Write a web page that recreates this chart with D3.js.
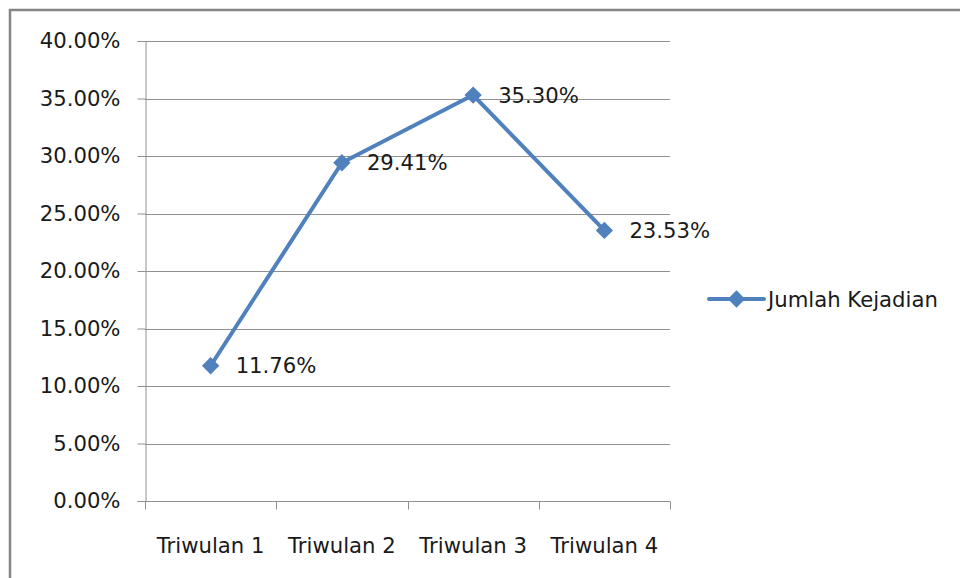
<!DOCTYPE html>
<html>
<head>
<meta charset="utf-8">
<script src="https://cdn.jsdelivr.net/npm/d3@7"></script>
<style>
  html, body { margin: 0; padding: 0; background: #fff; }
  svg { display: block; }
  text { font-family: "DejaVu Sans", sans-serif; fill: #1a1a1a; }
</style>
</head>
<body>
<div id="chart"></div>
<script>
// Quarterly share of incidents
const categories = ["Triwulan 1", "Triwulan 2", "Triwulan 3", "Triwulan 4"];
const values = [11.76, 29.41, 35.30, 23.53];
const yTicks = [0, 5, 10, 15, 20, 25, 30, 35, 40];
const seriesName = "Jumlah Kejadian";

const W = 960, H = 578;
const plot = { left: 145, right: 670, top: 41, bottom: 501 };
const blue = "#4F81BD";
const grid = "#909090";
const fs = 21.2;

const svg = d3.select("#chart").append("svg")
  .attr("width", W).attr("height", H);

// chart frame
svg.append("rect")
  .attr("x", 10).attr("y", 10)
  .attr("width", W + 10).attr("height", H + 10)
  .attr("fill", "#fff").attr("stroke", "#868686").attr("stroke-width", 2.5);

const x = d3.scaleBand().domain(categories).range([plot.left, plot.right]);
const y = d3.scaleLinear().domain([0, 40]).range([plot.bottom, plot.top]);

// horizontal gridlines
svg.append("g").selectAll("line").data(yTicks.filter(t => t > 0)).join("line")
  .attr("x1", plot.left).attr("x2", plot.right)
  .attr("y1", d => Math.round(y(d)) + 0.5).attr("y2", d => Math.round(y(d)) + 0.5)
  .attr("stroke", grid).attr("stroke-width", 1);

// y axis
const yAxis = svg.append("g")
  .attr("transform", `translate(${plot.left + 0.5},0)`)
  .call(d3.axisLeft(y).tickValues(yTicks).tickSize(8).tickPadding(17)
    .tickFormat(d => d.toFixed(2) + "%"));
yAxis.select(".domain").attr("stroke", grid);
yAxis.selectAll(".tick line").attr("stroke", grid);
yAxis.selectAll(".tick text")
  .attr("font-family", "DejaVu Sans, sans-serif")
  .attr("font-size", fs).attr("fill", "#1a1a1a");

// x axis with ticks at category boundaries
const xAxisG = svg.append("g").attr("transform", `translate(0,${plot.bottom + 0.5})`);
xAxisG.append("line")
  .attr("x1", plot.left).attr("x2", plot.right)
  .attr("stroke", grid);
const bounds = categories.map(c => x(c)).concat([x(categories[categories.length - 1]) + x.bandwidth()]);
xAxisG.selectAll("line.tk").data(bounds).join("line").attr("class", "tk")
  .attr("x1", d => Math.round(d) + 0.5).attr("x2", d => Math.round(d) + 0.5)
  .attr("y1", 0).attr("y2", 8).attr("stroke", grid);
xAxisG.selectAll("text").data(categories).join("text")
  .attr("x", d => x(d) + x.bandwidth() / 2)
  .attr("y", 51)
  .attr("text-anchor", "middle")
  .attr("font-size", fs)
  .text(d => d);

// series line
const pts = categories.map((c, i) => ({ c, v: values[i] }));
const cx = d => x(d.c) + x.bandwidth() / 2;
svg.append("path").datum(pts)
  .attr("fill", "none").attr("stroke", blue).attr("stroke-width", 4)
  .attr("stroke-linejoin", "round")
  .attr("d", d3.line().x(cx).y(d => y(d.v)));

// diamond markers
const marker = d3.symbol().type(d3.symbolSquare).size(150);
svg.append("g").selectAll("path").data(pts).join("path")
  .attr("transform", d => `translate(${cx(d)},${y(d.v)}) rotate(45)`)
  .attr("d", marker)
  .attr("fill", blue);

// data labels
svg.append("g").selectAll("text").data(pts).join("text")
  .attr("x", d => cx(d) + 25)
  .attr("y", d => y(d.v))
  .attr("dy", "0.36em")
  .attr("font-size", fs)
  .text(d => d.v.toFixed(2) + "%");

// legend
const lg = svg.append("g").attr("transform", "translate(709,299)");
lg.append("line").attr("x1", 0).attr("x2", 55)
  .attr("stroke", blue).attr("stroke-width", 4).attr("stroke-linecap", "round");
lg.append("path").attr("transform", "translate(27.5,0) rotate(45)")
  .attr("d", marker).attr("fill", blue);
lg.append("text").attr("x", 59).attr("y", 0).attr("dy", "0.36em")
  .attr("font-size", fs).text(seriesName);
</script>
</body>
</html>
